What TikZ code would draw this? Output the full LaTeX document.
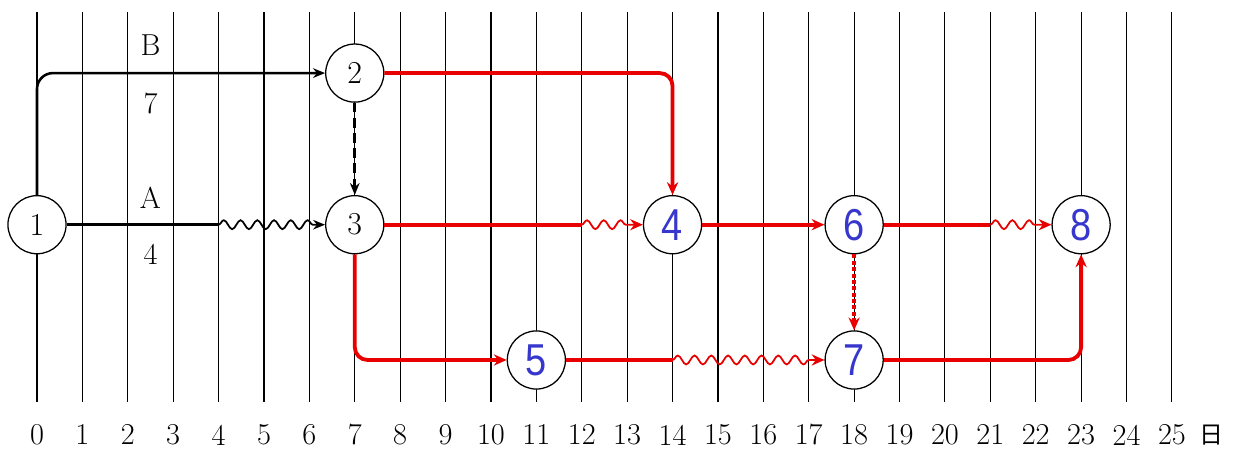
\documentclass[tikz,border=0pt]{standalone}
\usepackage{fontspec}
\newfontfamily\numsans[FakeStretch=0.85]{Liberation Sans}
\newfontfamily\cjk{Noto Sans CJK SC}
\definecolor{NetRed}{RGB}{232,0,0}
\definecolor{NetBlue}{RGB}{55,55,205}
\usetikzlibrary{arrows.meta, decorations.pathmorphing}

\begin{document}
\begin{tikzpicture}[
        gridline/.style={black, line width=0.7pt},
        event/.style={circle, draw=black, fill=white, line width=0.8pt,
                      minimum size=1.28cm, inner sep=0pt,
                      font=\fontsize{20}{22}\selectfont},
        late/.style={event, text=NetBlue, font=\numsans\fontsize{28}{30}\selectfont},
        daylbl/.style={font=\fontsize{19}{21}\selectfont, inner sep=1pt},
        actlbl/.style={font=\fontsize{19}{21}\selectfont, inner sep=1pt},
        act/.style={-{Stealth[length=7.5pt,width=6pt]}, black, line width=1.6pt},
        crit/.style={-{Stealth[length=8pt,width=7pt]}, NetRed, line width=2.4pt},
        wave/.style={decorate, decoration={snake, amplitude=2.8pt,
                     segment length=10.5pt, post length=7pt}, line width=1.1pt},
        dummy/.style={-{Stealth[length=7.5pt,width=6pt]}, black, line width=1.9pt,
                      dash pattern=on 6pt off 3.5pt},
        critdummy/.style={-{Stealth[length=8pt,width=7pt]}, NetRed, line width=2.2pt,
                          dash pattern=on 2.5pt off 1.5pt}
      ]
        \useasboundingbox (-0.815,0) rectangle (26.5,9.91);

        % time grid
        \foreach \d in {0,...,25} {
          \draw[gridline] (\d,9.65) -- (\d,1.06);
          \node[daylbl] (day\d) at (\d,0.33) {\d};
        }
        \node[daylbl, font=\cjk\fontsize{15}{17}\selectfont] (unit) at (25.88,0.33) {日};

        % events
        \node[event] (n1) at (0,4.96) {1};
        \node[event] (n2) at (7,8.30) {2};
        \node[event] (n3) at (7,4.96) {3};
        \node[late] (n4) at (14,4.96) {4};
        \node[late] (n5) at (11,1.98) {5};
        \node[late] (n6) at (18,4.96) {6};
        \node[late] (n7) at (18,1.98) {7};
        \node[late] (n8) at (23,4.96) {8};

        % free float starts
        \coordinate (f13) at (4,4.96);
        \coordinate (f34) at (12,4.96);
        \coordinate (f57) at (14,1.98);
        \coordinate (f68) at (21,4.96);

        % activities
        \draw[act, rounded corners=10pt] (n1.north) |- (n2.west);
        \draw[black, line width=1.6pt] (n1.east) -- (f13);
        \draw[act, wave] (f13) -- (n3.west);
        \draw[dummy] (n2.south) -- (n3.north);

        \node[actlbl] (lblB) at (2.5,8.92) {B};
        \node[actlbl] (lbl7) at (2.5,7.64) {7};
        \node[actlbl] (lblA) at (2.5,5.55) {A};
        \node[actlbl] (lbl4) at (2.5,4.30) {4};

        \draw[crit, rounded corners=8pt] (n2.east) -| (n4.north);
        \draw[NetRed, line width=2.4pt] (n3.east) -- (f34);
        \draw[crit, wave] (f34) -- (n4.west);
        \draw[crit, rounded corners=8pt] (n3.south) |- (n5.west);
        \draw[crit] (n4.east) -- (n6.west);
        \draw[NetRed, line width=2.4pt] (n5.east) -- (f57);
        \draw[crit, wave] (f57) -- (n7.west);
        \draw[critdummy] (n6.south) -- (n7.north);
        \draw[NetRed, line width=2.4pt] (n6.east) -- (f68);
        \draw[crit, wave] (f68) -- (n8.west);
        \draw[crit, rounded corners=8pt] (n7.east) -| (n8.south);
      \end{tikzpicture}
\end{document}
